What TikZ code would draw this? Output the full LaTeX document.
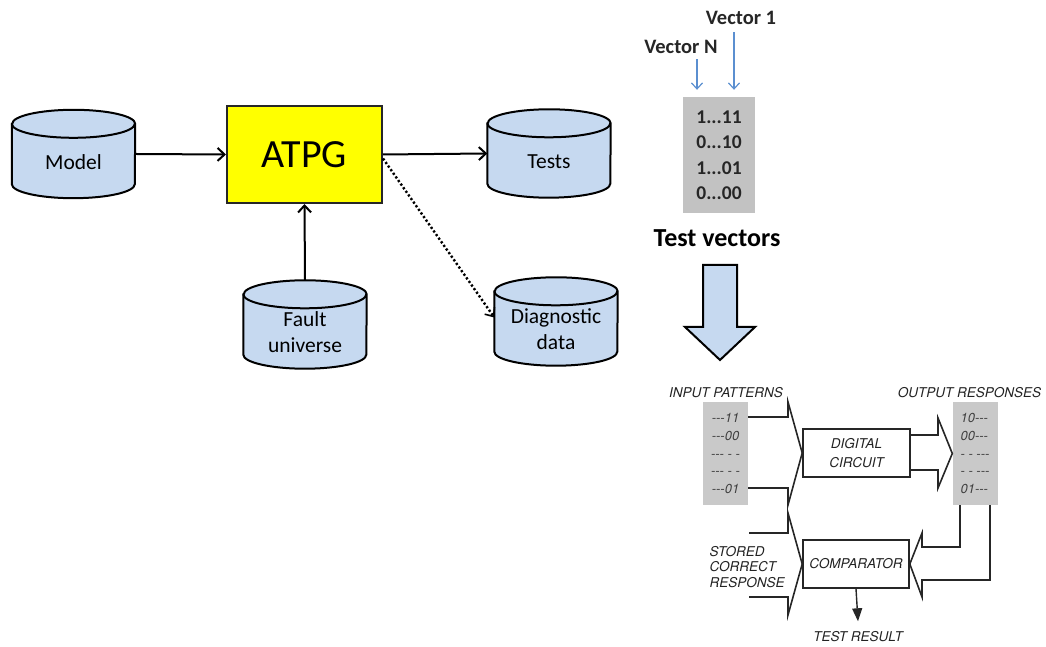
\documentclass[tikz,border=0pt]{standalone}
\usepackage{fontspec}
\setmainfont{Carlito}
\newfontfamily\hv{TeX Gyre Heros}
\usetikzlibrary{arrows.meta,backgrounds}

\definecolor{cylblue}{HTML}{C6D9F0}
\definecolor{vecblue}{HTML}{5B8FD0}
\definecolor{boxgray}{HTML}{C2C2C2}
\definecolor{patgray}{HTML}{C9C9C9}
\definecolor{ink}{HTML}{262626}
\definecolor{soft}{HTML}{222222}
\definecolor{atpgyellow}{HTML}{FFFF00}

\newcommand\cylfont{\fontsize{21.5}{26}\selectfont}
\newcommand\lrfont{\hv\itshape\fontsize{13.5}{15.5}\selectfont}

% storage drum drawn behind a named rectangular node
\newcommand\drumshape[1]{%
  \draw[line width=2pt, fill=cylblue]
    ([yshift=-14pt]#1.north west) -- ([yshift=14pt]#1.south west)
    arc[start angle=180, end angle=360, x radius=61.5pt, y radius=14pt]
    -- ([yshift=-14pt]#1.north east)
    arc[start angle=0, end angle=180, x radius=61.5pt, y radius=14pt] -- cycle;
  \draw[line width=2pt] ([yshift=-14pt]#1.north west)
    arc[start angle=180, end angle=360, x radius=61.5pt, y radius=14pt];}

\tikzset{
  store/.style={minimum width=123pt, minimum height=88pt, inner sep=0pt},
  drumtext/.style={font=\cylfont, align=center, text=black, yshift=-8pt},
  flow/.style={line width=2pt, -{Straight Barb[length=7pt,width=13pt,line width=2pt]}},
  dotflow/.style={line width=2.4pt, dash pattern=on 2.2pt off 2.2pt,
    -{Straight Barb[length=7pt,width=12pt,line width=1.6pt]}},
  vecarrow/.style={vecblue, line width=1.3pt, -{Straight Barb[length=6pt,width=11pt,line width=1.2pt]}},
  fat/.style={ink, line width=1.6pt, line join=miter},
  blockbox/.style={draw=ink, line width=1.6pt, align=center, font=\lrfont, text=soft},
  lrlabel/.style={font=\lrfont, text=soft},
  patbox/.style={fill=patgray, minimum width=45pt, minimum height=103pt, align=center,
    font=\hv\itshape\fontsize{13}{17.75}\selectfont, text=black!75},
}

\begin{document}
\begin{tikzpicture}[x=1pt, y=1pt]
\useasboundingbox (0,0) rectangle (1046,647);

% ---------- ATPG flow ----------
\node[draw=ink, line width=2pt, fill=atpgyellow, minimum width=155pt,
  minimum height=97pt, font=\fontsize{40}{48}\selectfont] (atpg) at (304.5,492.5) {ATPG};

\node[store, label={[name=model-t, drumtext]center:Model}] (model) at (73.5,493) {};
\node[store, label={[name=tests-t, drumtext]center:Tests}] (tests) at (549,493.5) {};
\node[store, label={[name=fault-t, drumtext]center:{Fault\\universe}}] (fault) at (305,322.5) {};
\node[store, label={[name=diag-t, drumtext]center:{Diagnostic\\data}}] (diag) at (556,325.5) {};

\begin{scope}[on background layer]
  \drumshape{model}
  \drumshape{tests}
  \drumshape{fault}
  \drumshape{diag}
\end{scope}

\draw[flow] (model.east) -- (atpg.west);
\draw[flow] (atpg.east) -- (tests.west);
\draw[flow] (fault.north) -- (atpg.south);
\draw[dotflow] ([yshift=-4pt]atpg.east) -- ([yshift=4pt]diag.west);

% ---------- test vectors ----------
\node[font=\bfseries\fontsize{20.5}{24}\selectfont, text=black!85] (vec1) at (741,629) {Vector 1};
\node[font=\bfseries\fontsize{20.5}{24}\selectfont, text=black!85] (vecN) at (681,600) {Vector N};
\node[fill=boxgray, minimum width=72pt, minimum height=116pt, align=center,
  font=\bfseries\fontsize{19.5}{25.5}\selectfont, text=black!85] (tv) at (719,492)
  {1...11\\0...10\\1...01\\0...00};
\node[font=\bfseries\fontsize{26}{30}\selectfont] (tvlab) at (717,409) {Test vectors};

\draw[vecarrow, shorten <=4pt, shorten >=7pt] ([xshift=-7pt]vec1.south) -- ([xshift=-7pt]vec1.south |- tv.north);
\draw[vecarrow, shorten <=2pt, shorten >=7pt] ([xshift=16pt]vecN.south) -- ([xshift=16pt]vecN.south |- tv.north);

% big down arrow
\draw[line width=2pt, fill=cylblue, line join=miter]
  (703,382) -- (737,382) -- (737,320) -- (755,320) -- (720,287) -- (685,320) -- (703,320) -- cycle;

% ---------- tester schematic ----------
\node[lrlabel] (inlab) at (726,254) {INPUT PATTERNS};
\node[lrlabel] (outlab) at (969.5,254) {OUTPUT RESPONSES};

\node[patbox] (inbox) at (725.5,193.5) {---11\\---00\\--- - -\\--- - -\\---01};
\node[patbox, align=left] (outbox) at (975,193.5) {10---\\00---\\- - ---\\- - ---\\01---};

\node[blockbox, minimum width=107pt, minimum height=48pt,
  font=\hv\itshape\fontsize{13.5}{19}\selectfont] (dc) at (856.5,194) {DIGITAL\\CIRCUIT};
\node[blockbox, minimum width=106pt, minimum height=48pt] (cmp) at (856,83) {COMPARATOR};

\node[lrlabel, anchor=west, align=left] (stored) at (706,80) {STORED\\CORRECT\\RESPONSE};
\node[lrlabel] (result) at (858,10) {TEST RESULT};

% patterns into the circuit
\draw[fat] (inbox.east |- 0,230) -- (788,230) -- (788,245) -- (dc.west)
  -- (788,142) -- (788,159) -- (inbox.east |- 0,159);
% circuit outputs
\draw[fat] (dc.east |- 0,212) -- (938,212) -- (938,229) -- (outbox.west)
  -- (938,159) -- (938,177) -- (dc.east |- 0,177);
% stored response into comparator
\draw[fat] (749,114) -- (788,114) -- (788,134) -- (cmp.west)
  -- (788,32) -- (788,50) -- (749,50);
% responses fed back to comparator
\draw[fat] (outbox.south -| 960,0) -- (960,100) -- (922,100) -- (922,114) -- (cmp.east)
  -- (922,50) -- (922,67) -- (990,67) -- (outbox.south -| 990,0);

\draw[ink, line width=1.4pt, -{Triangle[length=13pt,width=10pt]}] (cmp.south) -- ([yshift=7pt]result.north);

\end{tikzpicture}
\end{document}
